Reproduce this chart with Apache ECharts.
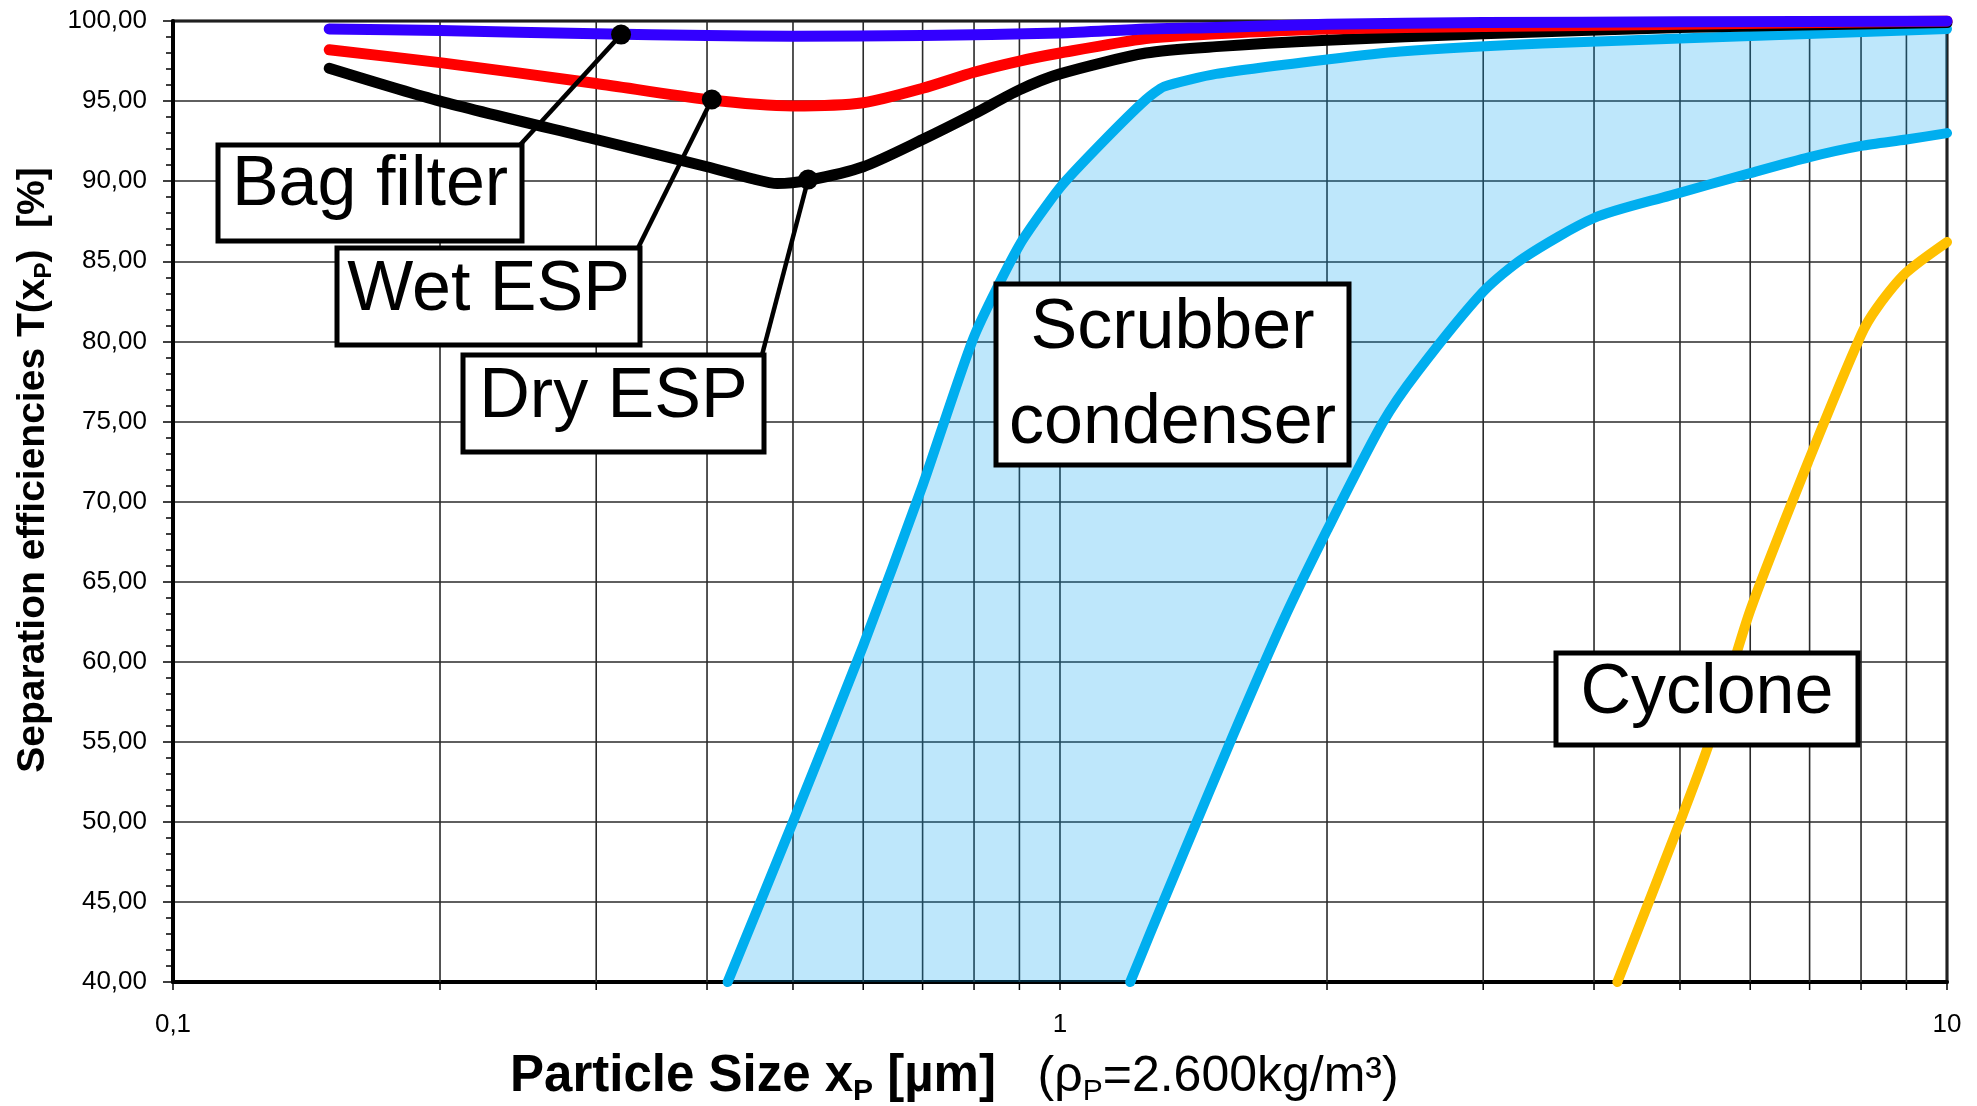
<!DOCTYPE html>
<html><head><meta charset="utf-8">
<script src="https://cdn.jsdelivr.net/npm/echarts@6/dist/echarts.min.js"></script>
<style>html,body{margin:0;padding:0;background:#fff}#c{width:1977px;height:1106px}</style>
</head><body><div id="c"></div>
<script>
// ---------------- data ----------------
const xTickLabels = ['0,1', '1', '10'];
const xMinor = [0.2, 0.3, 0.4, 0.5, 0.6, 0.7, 0.8, 0.9, 2, 3, 4, 5, 6, 7, 8, 9];

const bagX = [0.15, 0.2, 0.3, 0.4, 0.5, 0.7, 1.0, 1.25, 1.5, 2, 3, 5, 10];
const bagY = [99.5, 99.4, 99.2, 99.1, 99.05, 99.1, 99.25, 99.5, 99.6, 99.8, 99.9, 99.95, 100];

const wetX = [0.15, 0.2, 0.3, 0.4, 0.5, 0.6, 0.7, 0.8, 0.9, 1.0, 1.25, 1.5, 2, 3, 5, 10];
const wetY = [98.2, 97.4, 96.1, 95.1, 94.7, 94.9, 95.8, 96.8, 97.5, 98.0, 98.9, 99.2, 99.5, 99.65, 99.8, 100];

const dryX = [0.15, 0.2, 0.3, 0.4, 0.45, 0.48, 0.52, 0.6, 0.7, 0.8, 0.9, 1.0, 1.25, 1.5, 2, 3, 5, 10];
const dryY = [97.05, 95.0, 92.6, 90.9, 90.15, 89.85, 90.05, 90.9, 92.6, 94.2, 95.7, 96.7, 98.0, 98.4, 98.8, 99.2, 99.6, 99.9];

const scrubUpX = [0.422, 0.5, 0.6, 0.7, 0.8, 0.9, 1.0, 1.115, 1.25, 1.31, 1.5, 2, 2.42, 3.5, 5, 10];
const scrubUpY = [40, 50, 61, 71, 80.3, 86, 89.6, 92.4, 95.1, 95.9, 96.7, 97.6, 98.1, 98.6, 98.9, 99.5];

const scrubLoX = [1.2, 1.263, 1.377, 1.567, 1.783, 2, 2.31, 2.53, 3, 3.33, 4, 4.87, 6, 7, 8, 9, 10];
const scrubLoY = [40, 43, 48, 55.4, 62.5, 68.2, 74.9, 78.1, 83.1, 85.2, 87.7, 89.1, 90.5, 91.5, 92.2, 92.6, 93.0];

const cycX = [4.25, 5, 5.4, 6, 7, 8, 8.34, 9, 10];
const cycY = [40, 50, 55, 63.2, 72.7, 80.4, 82.1, 84.3, 86.2];

// annotation targets (points on curves)
const labelNames = ['Bag filter', 'Wet ESP', 'Dry ESP'];
const labelX = [0.32, 0.405, 0.52];
const labelY = [99.15, 95.1, 90.1];

// ---------------- layout ----------------
const FONT = '"Liberation Sans", Arial, Helvetica, sans-serif';
const BOXES = [ // x, y, w, h (pixels)
  [218, 145, 304, 96],
  [337, 248, 303, 97],
  [463, 355, 301, 97],
  [996, 284, 353, 181],
  [1556, 653, 302, 92]
];

const zip = (xs, ys) => xs.map((x, i) => [x, ys[i]]);
const fmtNum = v => String(Number(Number(v).toPrecision(6))).replace('.', ',');

function lineSeries(name, xs, ys, color, width, z, smooth) {
  return {
    type: 'line', name, data: zip(xs, ys), showSymbol: false, symbol: 'none',
    smooth, z, silent: true, animation: false,
    lineStyle: { color, width, cap: 'round', join: 'round' }
  };
}

const chart = echarts.init(document.getElementById('c'));

const boxGraphics = [];
const boxTexts = [
  [{ t: 'Bag filter', dy: 41 }],
  [{ t: 'Wet ESP', dy: 43 }],
  [{ t: 'Dry ESP', dy: 43 }],
  [{ t: 'Scrubber', dy: 45 }, { t: 'condenser', dy: 140 }],
  [{ t: 'Cyclone', dy: 41 }]
];
BOXES.forEach((b, i) => {
  boxGraphics.push({
    type: 'rect', z: 100, silent: true,
    shape: { x: b[0], y: b[1], width: b[2], height: b[3] },
    style: { fill: '#fff', stroke: '#000', lineWidth: 5 }
  });
  boxTexts[i].forEach(tt => {
    boxGraphics.push({
      type: 'text', z: 101, silent: true, x: b[0] + b[2] / 2, y: b[1] + tt.dy,
      style: { text: tt.t, font: '70px ' + FONT, fill: '#000', align: 'center', verticalAlign: 'middle' }
    });
  });
});

// axis titles
boxGraphics.push({
  type: 'text', z: 101, silent: true, x: 510, y: 1077,
  style: {
    text: '{b|Particle Size x}{bs|P}{b| [µm]}{n|   (ρ}{ns|P}{n|=2.600kg/m³)}',
    align: 'left', verticalAlign: 'middle',
    rich: {
      b: { fontFamily: FONT, fontSize: 51, fontWeight: 'bold', fill: '#000', lineHeight: 60 },
      bs: { fontFamily: FONT, fontSize: 30, fontWeight: 'bold', fill: '#000', lineHeight: 42, verticalAlign: 'bottom' },
      n: { fontFamily: FONT, fontSize: 50, fill: '#000', lineHeight: 60 },
      ns: { fontFamily: FONT, fontSize: 30, fill: '#000', lineHeight: 42, verticalAlign: 'bottom' }
    }
  }
});
boxGraphics.push({
  type: 'text', z: 101, silent: true, x: 33, y: 470, rotation: Math.PI / 2,
  style: {
    text: '{b|Separation efficiencies T(x}{bs|P}{b|)  [%]}',
    align: 'center', verticalAlign: 'middle',
    rich: {
      b: { fontFamily: FONT, fontSize: 39, fontWeight: 'bold', fill: '#000', lineHeight: 46 },
      bs: { fontFamily: FONT, fontSize: 24, fontWeight: 'bold', fill: '#000', lineHeight: 32, verticalAlign: 'bottom' }
    }
  }
});

const option = {
  animation: false,
  backgroundColor: '#fff',
  grid: { left: 173, top: 21, right: 30, bottom: 124, show: true, borderColor: '#000', borderWidth: 3, backgroundColor: 'transparent' },
  xAxis: {
    type: 'log', logBase: 10, min: 0.1, max: 10,
    axisLine: { show: true, onZero: false, lineStyle: { color: '#000', width: 4 } },
    axisTick: { show: true, length: 8, lineStyle: { color: '#000', width: 1.5 } },
    minorTick: { show: false },
    splitLine: { show: true, lineStyle: { color: '#2a2a2a', width: 1.6 } },
    axisLabel: {
      fontFamily: FONT, fontSize: 26, color: '#000', margin: 30,
      formatter: v => {
        const s = fmtNum(v);
        return xTickLabels.indexOf(s) >= 0 ? s : '';
      }
    }
  },
  yAxis: {
    type: 'value', min: 40, max: 100, interval: 5,
    axisLine: { show: true, onZero: false, lineStyle: { color: '#000', width: 4 } },
    axisTick: { show: true, length: 10, lineStyle: { color: '#000', width: 1.5 } },
    minorTick: { show: true, splitNumber: 5, length: 7, lineStyle: { color: '#000', width: 1.5 } },
    splitLine: { show: true, lineStyle: { color: '#2a2a2a', width: 1.6 } },
    axisLabel: { fontFamily: FONT, fontSize: 26, color: '#000', margin: 26, formatter: v => v.toFixed(2).replace('.', ',') }
  },
  graphic: boxGraphics,
  series: [
    { // minor vertical grid lines and ticks
      type: 'custom', z: 1, silent: true, clip: false, animation: false,
      data: xMinor.map(v => [v, 40]), encode: { x: 0, y: 1 },
      renderItem: (p, api) => {
        const x = api.value(0);
        const top = api.coord([x, 100]);
        const bot = api.coord([x, 40]);
        return {
          type: 'group', children: [
            { type: 'line', shape: { x1: top[0], y1: top[1], x2: bot[0], y2: bot[1] }, style: { stroke: '#2a2a2a', lineWidth: 1.6 } },
            { type: 'line', shape: { x1: bot[0], y1: bot[1], x2: bot[0], y2: bot[1] + 8 }, style: { stroke: '#000', lineWidth: 1.5 } }
          ]
        };
      }
    },
    { // scrubber band fill
      type: 'custom', z: 1, silent: true, clip: true, animation: false,
      data: [[scrubUpX[0], scrubUpY[0]]], encode: { x: 0, y: 1 },
      renderItem: (p, api) => {
        const pts = zip(scrubUpX, scrubUpY).map(d => api.coord(d))
          .concat(zip(scrubLoX, scrubLoY).reverse().map(d => api.coord(d)));
        return { type: 'polygon', shape: { points: pts }, style: { fill: 'rgba(0,160,240,0.255)' } };
      }
    },
    lineSeries('Scrubber upper', scrubUpX, scrubUpY, '#00AEEF', 10, 2, 0.2),
    lineSeries('Scrubber lower', scrubLoX, scrubLoY, '#00AEEF', 10, 2, 0.25),
    lineSeries('Cyclone', cycX, cycY, '#FFC000', 10, 2, 0.25),
    lineSeries('Dry ESP', dryX, dryY, '#000000', 11, 3, 0.25),
    lineSeries('Wet ESP', wetX, wetY, '#FF0000', 11, 4, 0.25),
    lineSeries('Bag filter', bagX, bagY, '#3300FF', 11, 5, 0.25),
    { // annotation leaders and dots
      type: 'custom', z: 20, silent: true, clip: false, animation: false,
      data: labelX.map((x, i) => [x, labelY[i], i]), encode: { x: 0, y: 1 },
      renderItem: (p, api) => {
        const i = api.value(2);
        const c = api.coord([api.value(0), api.value(1)]);
        const b = BOXES[i];
        return {
          type: 'group', children: [
            { type: 'line', shape: { x1: b[0] + b[2] - 2, y1: b[1], x2: c[0], y2: c[1] }, style: { stroke: '#000', lineWidth: 4.5 } },
            { type: 'circle', shape: { cx: c[0], cy: c[1], r: 10 }, style: { fill: '#000' } }
          ]
        };
      }
    }
  ]
};
chart.setOption(option);
</script>
</body></html>
